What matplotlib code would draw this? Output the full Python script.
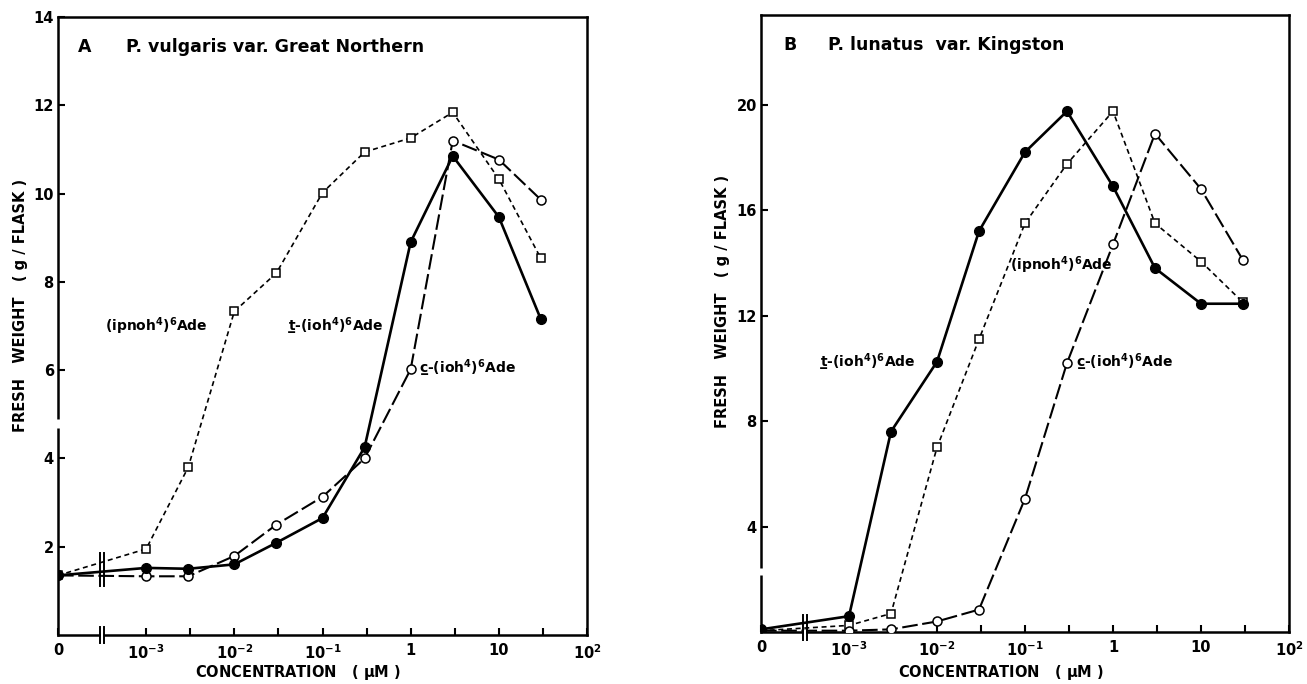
import numpy as np
import matplotlib
matplotlib.use("Agg")
import matplotlib.pyplot as plt
from matplotlib.ticker import FixedLocator, NullFormatter
import matplotlib.transforms as mtransforms

plt.rcParams['font.family'] = ['DejaVu Sans']
plt.rcParams['font.weight'] = 'bold'
plt.rcParams['axes.labelweight'] = 'bold'
plt.rcParams['mathtext.fontset'] = 'dejavusans'
plt.rcParams['mathtext.default'] = 'bf'

# ---------------- data ----------------
conc = [0, 1e-3, 3e-3, 1e-2, 3e-2, 1e-1, 3e-1, 1, 3, 10, 30]

# Panel A: P. vulgaris var. Great Northern
a_ipnoh = [1.35, 1.95, 3.8, 7.33, 8.2, 10.02, 10.94, 11.26, 11.84, 10.33, 8.53]
a_t_ioh = [1.35, 1.52, 1.5, 1.6, 2.09, 2.65, 4.25, 8.9, 10.85, 9.47, 7.15]
a_c_ioh = [1.35, 1.33, 1.33, 1.79, 2.5, 3.13, 4.0, 6.02, 11.2, 10.77, 9.86]

# Panel B: P. lunatus var. Kingston
b_ipnoh = [0.05, 0.25, 0.7, 7.0, 11.1, 15.5, 17.75, 19.75, 15.5, 14.05, 12.5]
b_t_ioh = [0.1, 0.6, 7.6, 10.25, 15.2, 18.2, 19.75, 16.9, 13.8, 12.45, 12.45]
b_c_ioh = [0.05, 0.05, 0.1, 0.4, 0.85, 5.06, 10.2, 14.7, 18.9, 16.8, 14.1]

xtick_vals = [0, 1e-3, 1e-2, 1e-1, 1, 10, 100]
xtick_labels = ['0', '10$^{-3}$', '10$^{-2}$', '10$^{-1}$', '1', '10', '10$^{2}$']
xminor_vals = [10 ** -2.5, 10 ** -1.5, 10 ** -0.5, 10 ** 0.5, 10 ** 1.5]

a_yticks = [2, 4, 6, 8, 10, 12, 14]
b_yticks = [4, 8, 12, 16, 20]


# broken log axis: 0 sits one decade left of 1e-3
def fwd(x):
    x = np.asarray(x, dtype=float)
    with np.errstate(divide='ignore', invalid='ignore'):
        return np.where(x > 0, np.log10(np.where(x > 0, x, 1.0)), -4.0)


def inv(y):
    y = np.asarray(y, dtype=float)
    return np.where(y <= -4.0, 0.0, 10.0 ** y)


fig = plt.figure(figsize=(13.07, 6.84), dpi=100)
axA = fig.add_axes([58 / 1307, 1 - 635 / 684, 529 / 1307, 618 / 684])
axB = fig.add_axes([761 / 1307, 1 - 632 / 684, 528 / 1307, 617 / 684])

short_dash = (0, (3.0, 2.2))
long_dash = (0, (7.5, 2.2))


def draw_panel(ax, ipnoh, t_ioh, c_ioh, ylim, yticks):
    ax.set_xscale('function', functions=(fwd, inv))
    ax.set_xlim(0, 100)
    ax.set_ylim(*ylim)
    ax.plot(conc, ipnoh, linestyle=short_dash, color='black', lw=1.2,
            marker='s', ms=6.3, mfc='white', mec='black', mew=1.1, zorder=4)
    ax.plot(conc, c_ioh, linestyle=long_dash, color='black', lw=1.5,
            marker='o', ms=6.5, mfc='white', mec='black', mew=1.1, zorder=5)
    ax.plot(conc, t_ioh, linestyle='-', color='black', lw=1.9,
            marker='o', ms=7, mfc='black', mec='black', zorder=6)
    ax.xaxis.set_major_locator(FixedLocator(xtick_vals))
    ax.set_xticklabels(xtick_labels)
    ax.xaxis.set_minor_locator(FixedLocator(xminor_vals))
    ax.xaxis.set_minor_formatter(NullFormatter())
    ax.set_yticks(yticks)
    ax.set_yticklabels([str(v) for v in yticks])
    ax.tick_params(axis='both', which='both', direction='in', length=5, width=1.5,
                   labelsize=10.5)
    ax.tick_params(axis='x', pad=6)
    ax.tick_params(axis='y', pad=3)
    for sp in ax.spines.values():
        sp.set_linewidth(1.8)
    ax.set_xlabel('CONCENTRATION   ( $\\mathbf{\\mu}$M )', fontsize=10.5,
                  fontweight='bold', va='center')
    ax.set_ylabel('FRESH   WEIGHT   ( g / FLASK )', fontsize=10.5,
                  fontweight='bold', va='center')


def draw_break(ax, y0, y1, data=True):
    # double vertical bars at the axis break position (between 0 and 1e-3)
    xb = 10 ** -3.5
    if data:
        tr = ax.transData
    else:
        tr = mtransforms.blended_transform_factory(ax.transData, ax.transAxes)
    for dx in (-0.025, 0.025):
        ax.plot([xb * 10 ** dx] * 2, [y0, y1], color='black', lw=1.4,
                transform=tr, clip_on=False, zorder=8)


def white_gap_x(ax):
    xb = 10 ** -3.5
    tr = mtransforms.blended_transform_factory(ax.transData, ax.transAxes)
    ax.plot([xb * 10 ** -0.017, xb * 10 ** 0.017], [0, 0], color='white', lw=3,
            transform=tr, clip_on=False, zorder=7, solid_capstyle='butt')


def white_gap_y(ax, y0, y1):
    tr = mtransforms.blended_transform_factory(ax.transAxes, ax.transData)
    ax.plot([0, 0], [y0, y1], color='white', lw=3.5, transform=tr,
            clip_on=False, zorder=7, solid_capstyle='butt')


draw_panel(axA, a_ipnoh, a_t_ioh, a_c_ioh, (0, 14), a_yticks)
draw_panel(axB, b_ipnoh, b_t_ioh, b_c_ioh, (0, 23.4), b_yticks)

# panel A breaks
draw_break(axA, -0.013, 0.013, data=False)
draw_break(axA, 1.1, 1.85)
white_gap_x(axA)
white_gap_y(axA, 4.7, 4.9)
# panel B breaks
draw_break(axB, -0.3, 0.65)
white_gap_x(axB)
white_gap_y(axB, 2.17, 2.43)

axA.yaxis.set_label_coords(-0.07, 0.534)
axB.yaxis.set_label_coords(-0.072, 0.535)
axA.xaxis.set_label_coords(0.454, -0.06)
axB.xaxis.set_label_coords(0.455, -0.065)

# titles
axA.text(0.038, 0.951, 'A', transform=axA.transAxes, fontsize=12.5, va='center', ha='left')
axA.text(0.129, 0.951, 'P. vulgaris var. Great Northern', transform=axA.transAxes,
         fontsize=12.5, va='center', ha='left')
axB.text(0.042, 0.951, 'B', transform=axB.transAxes, fontsize=12.5, va='center', ha='left')
axB.text(0.127, 0.951, 'P. lunatus  var. Kingston', transform=axB.transAxes,
         fontsize=12.5, va='center', ha='left')

# series labels
lab_ipnoh = '(ipnoh$^{4}$)$^{6}$Ade'
lab_t = 't\u0332-(ioh$^{4}$)$^{6}$Ade'
lab_c = 'c\u0332-(ioh$^{4}$)$^{6}$Ade'
kw = dict(fontsize=10, va='center', ha='left', zorder=9)
axA.text(10 ** -3.47, 7.0, lab_ipnoh, **kw)
axA.text(10 ** -1.39, 7.0, lab_t, **kw)
axA.text(10 ** 0.09, 6.05, lab_c, **kw)
axB.text(10 ** -1.17, 13.9, lab_ipnoh, **kw)
axB.text(10 ** -3.33, 10.25, lab_t, **kw)
axB.text(10 ** -0.42, 10.25, lab_c, **kw)

fig.savefig('out.png', dpi=100)
